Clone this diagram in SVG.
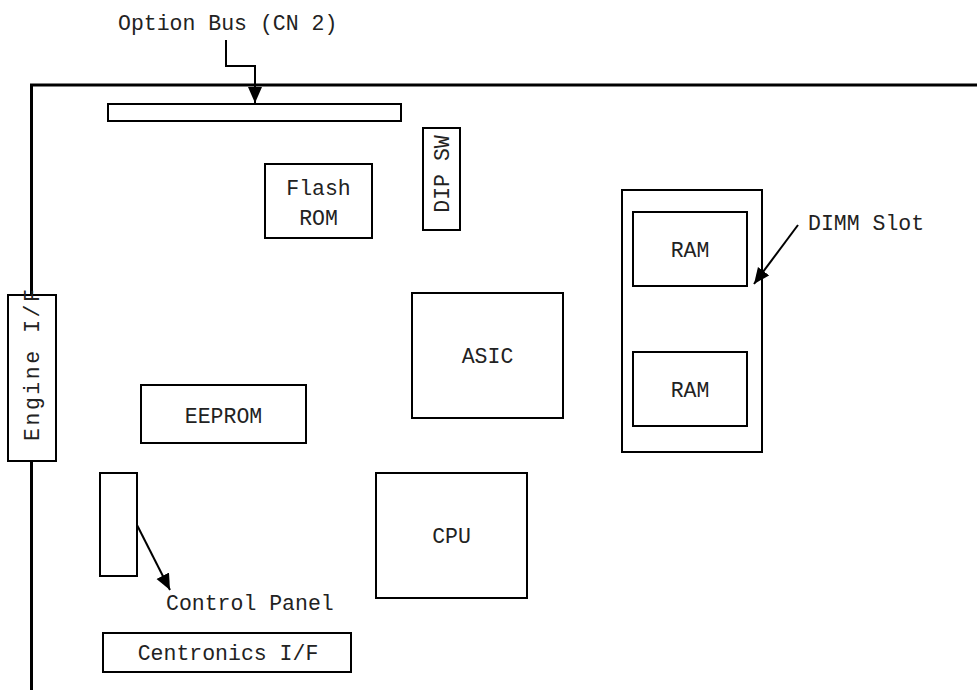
<svg xmlns="http://www.w3.org/2000/svg" width="977" height="690" viewBox="0 0 977 690">
<style>
.box{fill:#fff;stroke:#000;stroke-width:2}
.t{font-family:"Liberation Mono","Courier New",monospace;font-size:21.5px;fill:#222}
.c{text-anchor:middle}
.conn{fill:none;stroke:#000;stroke-width:2}
.board{fill:none;stroke:#000;stroke-width:3}
</style>
<defs>
<marker id="arr" markerUnits="userSpaceOnUse" markerWidth="18" markerHeight="16" refX="16" refY="7" orient="auto">
<path d="M0,0 L16,7 L0,14 Z" fill="#000"/>
</marker>
</defs>
<rect width="977" height="690" fill="#fff"/>
<g id="board"><polyline class="board" points="31.5,690 31.5,85 977,85"/></g>
<g id="option-bus"><rect class="box" x="108" y="104" width="293" height="17"/></g>
<g id="option-bus-label"><text class="t" x="118" y="30">Option Bus (CN 2)</text></g>
<g id="flash-rom"><rect class="box" x="265" y="164" width="107" height="74"/><text class="t c" x="318.5" y="195">Flash</text><text class="t c" x="318.5" y="225">ROM</text></g>
<g id="dip-sw"><rect class="box" x="423" y="128" width="37" height="102"/><text class="t c" transform="translate(449,174) rotate(-90)">DIP SW</text></g>
<g id="engine-if"><rect class="box" x="8" y="295" width="48" height="166"/><text class="t c" transform="translate(39,365) rotate(-90)" textLength="152" lengthAdjust="spacing">Engine I/F</text></g>
<g id="eeprom"><rect class="box" x="141" y="385" width="165" height="58"/><text class="t c" x="223.5" y="423">EEPROM</text></g>
<g id="asic"><rect class="box" x="412" y="293" width="151" height="125"/><text class="t c" x="487.5" y="363">ASIC</text></g>
<g id="cpu"><rect class="box" x="376" y="473" width="151" height="125"/><text class="t c" x="451.5" y="543">CPU</text></g>
<g id="dimm-slot"><rect class="box" x="622" y="190" width="140" height="262"/></g>
<g id="ram1"><rect class="box" x="633" y="212" width="114" height="74"/><text class="t c" x="690" y="257">RAM</text></g>
<g id="ram2"><rect class="box" x="633" y="352" width="114" height="74"/><text class="t c" x="690" y="397">RAM</text></g>
<g id="dimm-label"><text class="t" x="808" y="230">DIMM Slot</text></g>
<g id="control-panel"><rect class="box" x="100" y="473" width="37" height="103"/></g>
<g id="control-panel-label"><text class="t" x="166" y="610">Control Panel</text></g>
<g id="centronics"><rect class="box" x="103" y="633" width="248" height="39"/><text class="t c" x="228" y="660">Centronics I/F</text></g>
<g id="connectors">
<polyline class="conn" points="226,40 226,66 255,66 255,103" marker-end="url(#arr)"/>
<line class="conn" x1="798" y1="225" x2="754" y2="284" marker-end="url(#arr)"/>
<line class="conn" x1="137" y1="525" x2="170" y2="590" marker-end="url(#arr)"/>
</g>
</svg>
